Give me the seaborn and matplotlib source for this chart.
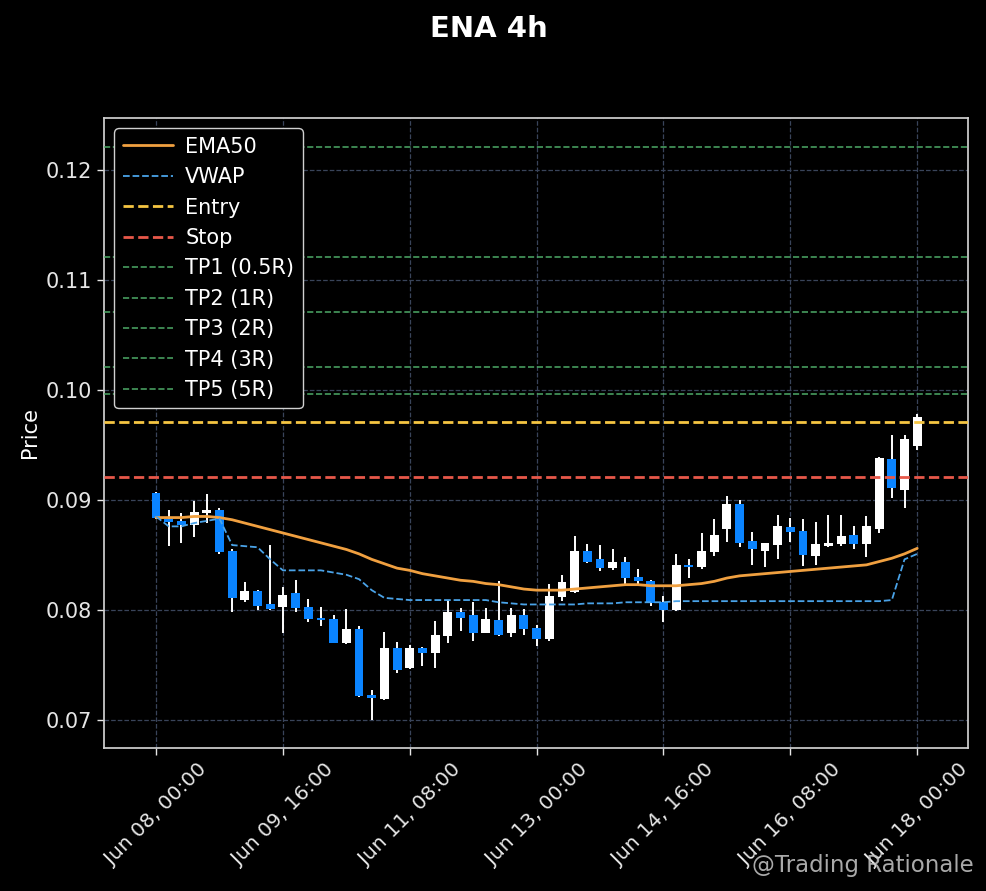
import matplotlib
matplotlib.use("Agg")
import numpy as np
import pandas as pd
import matplotlib.pyplot as plt
import seaborn as sns

# --- Data ---
opens = [0.0906, 0.0883, 0.0881, 0.0877, 0.0888, 0.0891, 0.0854, 0.0809, 0.0817, 0.0805,
         0.0803, 0.0815, 0.0803, 0.0793, 0.0792, 0.0770, 0.0783, 0.0723, 0.0719, 0.0765,
         0.0747, 0.0765, 0.0761, 0.0776, 0.0798, 0.0795, 0.0779, 0.0791, 0.0779, 0.0795,
         0.0784, 0.0774, 0.0812, 0.0816, 0.0854, 0.0846, 0.0838, 0.0844, 0.0830, 0.0826,
         0.0807, 0.0800, 0.0841, 0.0839, 0.0853, 0.0874, 0.0896, 0.0863, 0.0854, 0.0859,
         0.0875, 0.0872, 0.0849, 0.0858, 0.0860, 0.0868, 0.0860, 0.0874, 0.0937, 0.0909,
         0.0949]
highs = [0.0907, 0.0891, 0.0888, 0.0899, 0.0905, 0.0893, 0.0855, 0.0825, 0.0818, 0.0859,
         0.0821, 0.0827, 0.0810, 0.0803, 0.0795, 0.0801, 0.0785, 0.0727, 0.0780, 0.0771,
         0.0768, 0.0766, 0.0790, 0.0809, 0.0802, 0.0807, 0.0802, 0.0826, 0.0802, 0.0801,
         0.0786, 0.0824, 0.0832, 0.0867, 0.0860, 0.0859, 0.0855, 0.0848, 0.0837, 0.0827,
         0.0813, 0.0851, 0.0846, 0.0870, 0.0883, 0.0904, 0.0900, 0.0871, 0.0861, 0.0886,
         0.0884, 0.0883, 0.0880, 0.0886, 0.0886, 0.0876, 0.0885, 0.0939, 0.0959, 0.0959,
         0.0978]
lows = [0.0883, 0.0858, 0.0861, 0.0866, 0.0879, 0.0851, 0.0798, 0.0807, 0.0800, 0.0800,
        0.0779, 0.0798, 0.0789, 0.0785, 0.0770, 0.0769, 0.0721, 0.0700, 0.0718, 0.0743,
        0.0746, 0.0749, 0.0747, 0.0770, 0.0781, 0.0772, 0.0779, 0.0776, 0.0775, 0.0777,
        0.0767, 0.0772, 0.0808, 0.0815, 0.0843, 0.0835, 0.0836, 0.0824, 0.0824, 0.0804,
        0.0789, 0.0799, 0.0829, 0.0837, 0.0849, 0.0862, 0.0857, 0.0841, 0.0839, 0.0846,
        0.0862, 0.0840, 0.0841, 0.0857, 0.0858, 0.0855, 0.0848, 0.0870, 0.0902, 0.0893,
        0.0945]
closes = [0.0884, 0.0880, 0.0877, 0.0889, 0.0891, 0.0853, 0.0811, 0.0817, 0.0804, 0.0801,
          0.0814, 0.0802, 0.0792, 0.0791, 0.0770, 0.0783, 0.0722, 0.0720, 0.0765, 0.0745,
          0.0765, 0.0761, 0.0777, 0.0798, 0.0793, 0.0779, 0.0792, 0.0777, 0.0795, 0.0783,
          0.0774, 0.0813, 0.0825, 0.0854, 0.0844, 0.0838, 0.0844, 0.0829, 0.0826, 0.0806,
          0.0800, 0.0841, 0.0839, 0.0854, 0.0868, 0.0896, 0.0861, 0.0855, 0.0861, 0.0876,
          0.0871, 0.0850, 0.0860, 0.0861, 0.0867, 0.0860, 0.0876, 0.0938, 0.0911, 0.0955,
          0.0975]
ema50 = [0.0884, 0.0884, 0.0884, 0.0885, 0.0885, 0.0884, 0.0882, 0.0879, 0.0876, 0.0873,
         0.0870, 0.0867, 0.0864, 0.0861, 0.0858, 0.0855, 0.0851, 0.0846, 0.0842, 0.0838,
         0.0836, 0.0833, 0.0831, 0.0829, 0.0827, 0.0826, 0.0824, 0.0823, 0.0821, 0.0819,
         0.0818, 0.0818, 0.0818, 0.0819, 0.0820, 0.0821, 0.0822, 0.0823, 0.0823, 0.0822,
         0.0822, 0.0822, 0.0823, 0.0824, 0.0826, 0.0829, 0.0831, 0.0832, 0.0833, 0.0834,
         0.0835, 0.0836, 0.0837, 0.0838, 0.0839, 0.0840, 0.0841, 0.0844, 0.0847, 0.0851,
         0.0856]
vwap = [0.0885, 0.0876, 0.0876, 0.0879, 0.0881, 0.0883, 0.0859, 0.0858, 0.0857, 0.0846,
        0.0836, 0.0836, 0.0836, 0.0836, 0.0834, 0.0832, 0.0828, 0.0818, 0.0811, 0.0810,
        0.0809, 0.0809, 0.0809, 0.0809, 0.0809, 0.0809, 0.0809, 0.0807, 0.0806, 0.0805,
        0.0805, 0.0805, 0.0805, 0.0805, 0.0806, 0.0806, 0.0806, 0.0807, 0.0807, 0.0807,
        0.0807, 0.0808, 0.0808, 0.0808, 0.0808, 0.0808, 0.0808, 0.0808, 0.0808, 0.0808,
        0.0808, 0.0808, 0.0808, 0.0808, 0.0808, 0.0808, 0.0808, 0.0808, 0.0809, 0.0846,
        0.0851]

ENTRY = 0.0971
STOP = 0.0921
tp_labels = ["TP1 (0.5R)", "TP2 (1R)", "TP3 (2R)", "TP4 (3R)", "TP5 (5R)"]
tp_levels = [0.0996, 0.1021, 0.1071, 0.1121, 0.1221]

times = pd.date_range("2025-06-08 00:00", periods=len(closes), freq="4h")
tick_idx = list(range(0, len(closes), 10))
tick_labels = [times[i].strftime("%b %d, %H:%M") for i in tick_idx]

# --- Colours ---
BG = "#000000"
UP = "#ffffff"
DOWN = "#0a84ff"
EMA_C = "#f0a040"
VWAP_C = "#4aa3e8"
ENTRY_C = "#f5c542"
STOP_C = "#e8584a"
TP_C = "#4fae6a"

sns.set_theme(style="dark", rc={
    "figure.facecolor": BG,
    "axes.facecolor": BG,
    "axes.edgecolor": "#d0d0d0",
    "axes.labelcolor": "white",
    "text.color": "white",
    "xtick.color": "#e6e6e6",
    "ytick.color": "#e6e6e6",
    "xtick.bottom": True,
    "ytick.left": True,
    "grid.color": "#39445a",
    "grid.linestyle": "--",
    "grid.linewidth": 0.9,
})
plt.rcParams["font.family"] = ["DejaVu Sans"]

df = pd.DataFrame({"idx": np.arange(len(closes)), "open": opens, "high": highs,
                   "low": lows, "close": closes, "ema": ema50, "vwap": vwap})
df["bottom"] = df[["open", "close"]].min(axis=1)
df["height"] = (df["close"] - df["open"]).abs().clip(lower=0.00012)
df["color"] = np.where(df["close"] >= df["open"], UP, DOWN)

fig = plt.figure(figsize=(9.87, 8.91), dpi=100)
ax = fig.add_axes([0.1054, 0.1605, 0.8753, 0.7071])

# candles: wicks then bodies
ax.vlines(df["idx"], df["low"], df["high"], color="white", linewidth=1.4, zorder=2)
ax.bar(df["idx"], df["height"], bottom=df["bottom"], width=0.7,
       color=df["color"], linewidth=0, zorder=3)

sns.lineplot(data=df, x="idx", y="ema", ax=ax, color=EMA_C, linewidth=2.0,
             label="EMA50", zorder=5)
sns.lineplot(data=df, x="idx", y="vwap", ax=ax, color=VWAP_C, linewidth=1.3,
             linestyle="--", label="VWAP", zorder=5)

ax.axhline(ENTRY, color=ENTRY_C, linestyle="--", linewidth=2.0, label="Entry", zorder=4)
ax.axhline(STOP, color=STOP_C, linestyle="--", linewidth=2.0, label="Stop", zorder=4)
for lab, lvl in zip(tp_labels, tp_levels):
    ax.axhline(lvl, color=TP_C, linestyle="--", linewidth=1.2, alpha=0.9,
               label=lab, zorder=4)

ax.set_xlim(-4.1, 64.0)
ax.set_ylim(0.06745, 0.12473)
ax.set_yticks([0.07, 0.08, 0.09, 0.10, 0.11, 0.12])
ax.set_yticklabels(["0.07", "0.08", "0.09", "0.10", "0.11", "0.12"], fontsize=15)
ax.set_xticks(tick_idx)
ax.set_xticklabels(tick_labels, rotation=45, fontsize=14.5)
ax.tick_params(length=5, width=1)
ax.set_xlabel("")
ax.set_ylabel("Price", fontsize=15)
ax.grid(True)

leg = ax.legend(loc="upper left", fontsize=15, facecolor=BG, edgecolor="#d0d0d0",
                framealpha=1.0, labelcolor="white", handlelength=2.4,
                labelspacing=0.5, handletextpad=0.6)
leg.get_frame().set_linewidth(1.0)

fig.suptitle("ENA 4h", fontsize=21, fontweight="bold", color="white",
             x=0.495, y=0.983)

fig.text(0.762, 0.029, "@Trading Rationale", fontsize=16.5, color="#c8c8c8",
         alpha=0.85, ha="left", va="center")

fig.savefig("out.png", dpi=100, facecolor=BG)
